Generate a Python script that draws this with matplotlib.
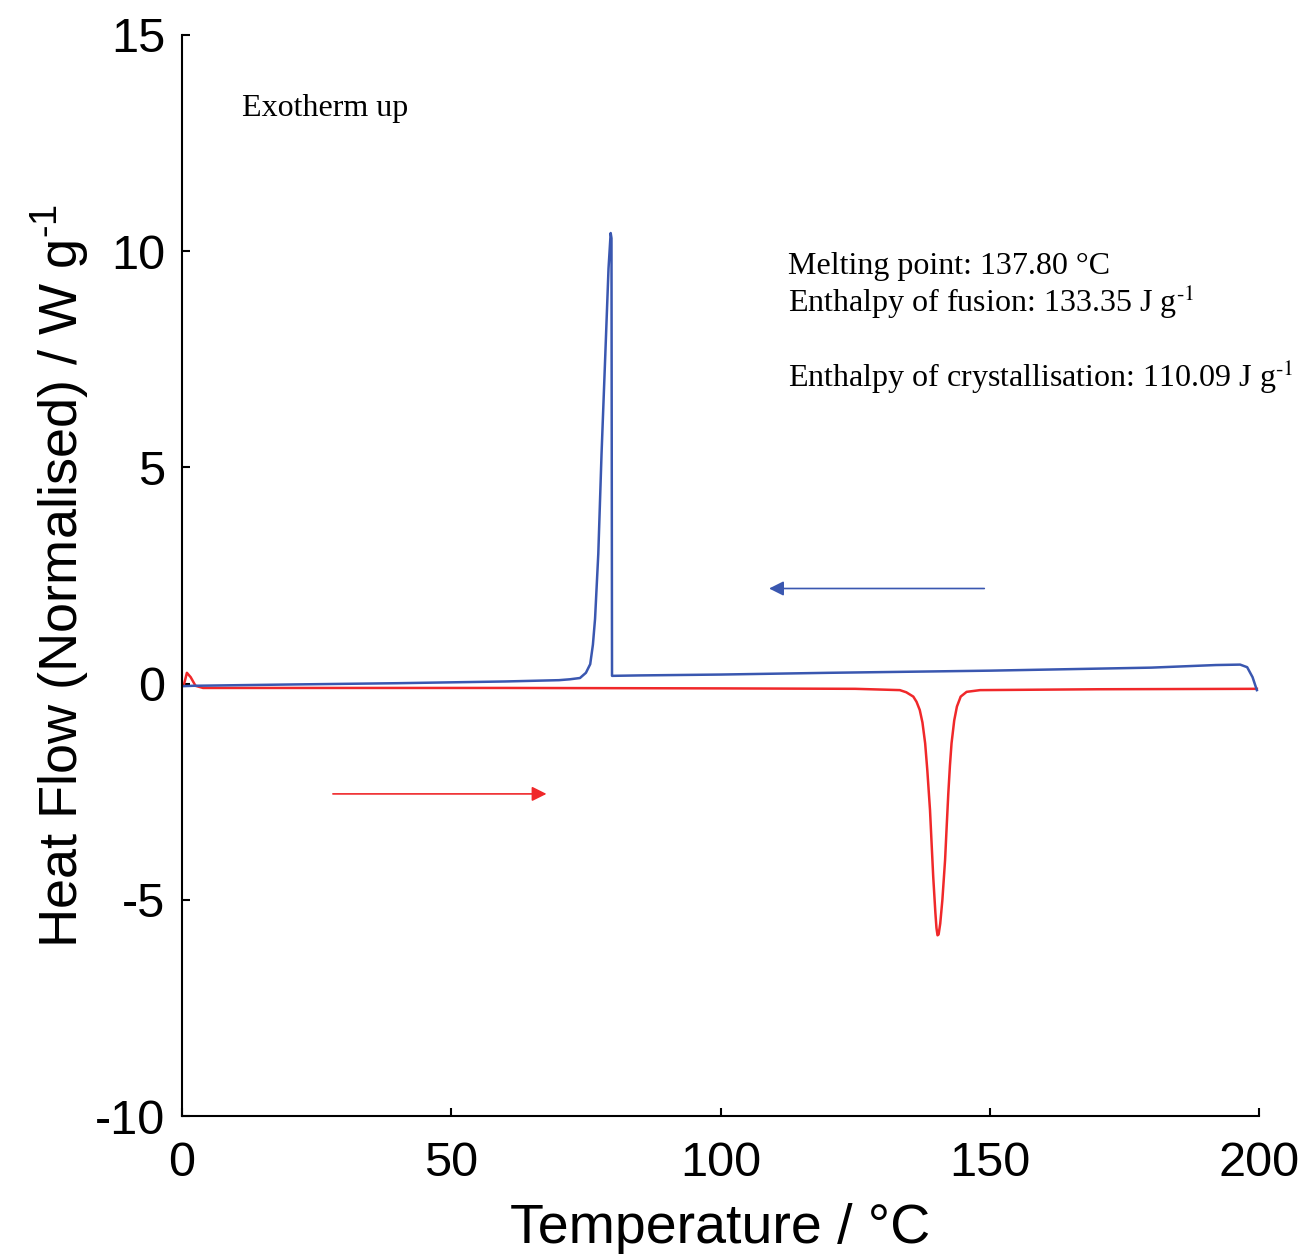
import matplotlib
matplotlib.use("Agg")
import matplotlib.pyplot as plt

plt.rcParams["axes.unicode_minus"] = False
plt.rcParams["mathtext.fontset"] = "custom"
plt.rcParams["mathtext.rm"] = "Liberation Sans"

# Cooling trace (blue)
cool_T = [0.0, 2.0, 20.0, 40.0, 60.0, 70.0, 72.0, 73.9, 75.0, 75.8, 76.3, 76.7, 77.3, 77.9,
          78.6, 79.2, 79.6, 79.75, 79.85, 85.0, 100.0, 120.0, 150.0, 180.0, 192.0, 196.5,
          197.8, 198.8, 199.6]
cool_HF = [-0.06, -0.05, -0.02, 0.01, 0.05, 0.08, 0.10, 0.13, 0.25, 0.45, 0.9, 1.5, 3.0, 5.3,
           7.6, 9.6, 10.42, 10.3, 0.18, 0.19, 0.21, 0.25, 0.30, 0.37, 0.43, 0.44,
           0.38, 0.15, -0.15]

# Heating trace (red)
heat_T = [0.4, 0.9, 1.6, 2.5, 3.9, 20.0, 60.0, 100.0, 125.0, 133.3, 134.5, 135.8, 136.4, 137.0,
          137.5, 138.0, 138.4, 138.9, 139.2, 139.5, 139.9, 140.1, 140.3, 140.5, 140.8, 141.2,
          141.7, 142.0, 142.3, 142.6, 142.9, 143.4, 143.9, 144.6, 145.7, 148.2, 170.0, 199.6]
heat_HF = [0.0, 0.25, 0.15, -0.05, -0.10, -0.10, -0.10, -0.11, -0.12, -0.15, -0.20, -0.30, -0.42,
           -0.61, -0.90, -1.38, -2.00, -2.92, -3.70, -4.47, -5.30, -5.65, -5.82, -5.80, -5.55,
           -5.00, -4.08, -3.30, -2.54, -1.90, -1.38, -0.85, -0.53, -0.30, -0.19, -0.15, -0.13, -0.12]

x_ticks = [0, 50, 100, 150, 200]
y_ticks = [-10, -5, 0, 5, 10, 15]

fig = plt.figure(figsize=(13.04, 12.54), dpi=100)
ax = fig.add_axes([0.1396, 0.110, 0.8259, 0.8621])

ax.plot(heat_T, heat_HF, color="#f0282a", lw=1.8, solid_joinstyle="round")
ax.plot(cool_T, cool_HF, color="#3a57b0", lw=1.8, solid_joinstyle="round")

ax.set_xlim(0, 200)
ax.set_ylim(-10, 15)
ax.set_xticks(x_ticks)
ax.set_yticks(y_ticks)
for s in ["top", "right"]:
    ax.spines[s].set_visible(False)
for s in ["left", "bottom"]:
    ax.spines[s].set_linewidth(1.5)
ax.tick_params(direction="in", length=6, width=1.5, labelsize=35)
ax.tick_params(axis="x", pad=18)
ax.tick_params(axis="y", pad=12)
for lab in ax.get_xticklabels() + ax.get_yticklabels():
    lab.set_fontfamily("Liberation Sans")

ax.set_xlabel("Temperature / °C", fontsize=40, fontfamily="Liberation Sans", labelpad=12)
ax.set_ylabel("Heat Flow (Normalised) / W g$^{\\text{-1}}$", fontsize=39,
              fontfamily="Liberation Sans", labelpad=2)

serif = "Liberation Serif"
fs = 23
ax.text(11.1, 13.30, "Exotherm up", fontsize=fs, fontfamily=serif, va="center", ha="left")
ax.text(112.6, 9.65, "Melting point: 137.80 °C", fontsize=fs, fontfamily=serif, va="center")
ax.text(112.6, 8.82, "Enthalpy of fusion: 133.35 J g$^{\\text{-1}}$", fontsize=fs,
        fontfamily=serif, va="center", math_fontfamily="stix")
ax.text(112.6, 7.09, "Enthalpy of crystallisation: 110.09 J g$^{\\text{-1}}$", fontsize=fs,
        fontfamily=serif, va="center", math_fontfamily="stix")

ax.annotate("", xy=(68.2, -2.55), xytext=(27.5, -2.55),
            arrowprops=dict(arrowstyle="-|>", color="#f0282a", lw=1.2, mutation_scale=22))
ax.annotate("", xy=(108.5, 2.2), xytext=(149.5, 2.2),
            arrowprops=dict(arrowstyle="-|>", color="#3a57b0", lw=1.2, mutation_scale=22))

fig.savefig("out.png", dpi=100)
